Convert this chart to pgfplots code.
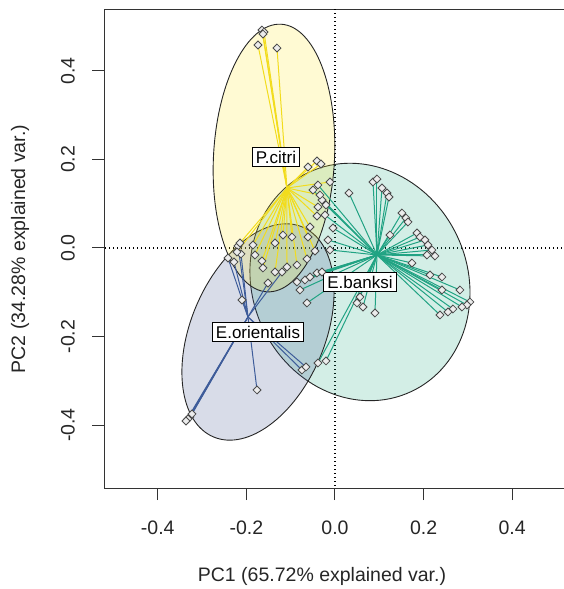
\documentclass[border=0pt]{standalone}
\usepackage{pgfplots}
\pgfplotsset{compat=1.18}
\usepackage{pgfplotstable}
\usepackage{fontspec}
\setmainfont{Liberation Sans}

\definecolor{cyel}{HTML}{F2DC1C}
\definecolor{cteal}{HTML}{21A383}
\definecolor{cblue}{HTML}{3E5C9A}
\definecolor{fyel}{HTML}{FDE725}
\definecolor{fteal}{HTML}{22A884}
\definecolor{fblue}{HTML}{3B528B}

% P.citri scores (PC1, PC2)
\pgfplotstableread{
x y
-0.1648 0.4920
-0.1602 0.4875
-0.1625 0.4830
-0.1738 0.4582
-0.1309 0.4514
-0.0406 0.1964
-0.0609 0.1828
-0.0316 0.1896
-0.0113 0.1490
-0.0339 0.1196
-0.0384 0.0925
-0.0406 0.0722
-0.0564 0.0474
-0.0609 0.0248
-0.0971 0.0248
-0.1174 0.0293
-0.1354 0.0113
-0.1851 0.0068
-0.2144 0.0113
-0.2212 -0.0090
-0.1806 -0.0158
-0.1648 -0.0293
-0.1625 -0.0451
-0.1354 -0.0542
-0.1083 -0.0429
-0.0858 -0.0384
-0.0632 -0.0248
-0.0451 -0.0068
}\pcitri

% E.orientalis scores
\pgfplotstableread{
x y
-0.2415 -0.0226
-0.2189 0.0045
-0.2122 -0.0135
-0.2280 -0.0316
-0.2099 -0.1174
-0.1760 -0.3205
-0.3273 -0.3814
-0.3318 -0.3859
-0.3228 -0.3747
-0.3363 -0.3905
-0.0745 -0.2754
-0.0655 -0.2686
-0.1512 -0.0790
-0.1196 -0.0542
}\eorient

% E.banksi scores
\pgfplotstableread{
x y
0.0858 0.1490
0.0948 0.1557
0.1061 0.1354
0.1174 0.1241
0.1219 0.1151
0.0316 0.1241
0.1512 0.0790
0.1602 0.0677
0.1648 0.0587
0.1241 0.0293
0.1851 0.0339
0.1918 0.0248
0.2031 0.0181
0.2099 0.0068
0.2189 -0.0045
0.2257 -0.0181
0.2076 -0.0158
0.1738 -0.0339
0.2144 -0.0609
0.2415 -0.0655
0.2415 -0.0948
0.2821 -0.0948
0.3047 -0.1219
0.2979 -0.1286
0.2866 -0.1332
0.2663 -0.1377
0.2550 -0.1444
0.2370 -0.1512
0.0903 -0.1467
0.0564 -0.1106
0.0497 -0.1241
0.0632 -0.1332
-0.0632 -0.1241
-0.0858 -0.0767
-0.0677 -0.0722
-0.0564 -0.0655
-0.0406 -0.0564
-0.0293 -0.0542
-0.0045 0.0451
-0.0293 0.1083
-0.0384 -0.2596
-0.0203 -0.2550
-0.0226 0.0745
-0.0158 0.0181
-0.0384 0.1422
-0.0497 0.1309
-0.0203 0.0971
-0.0113 -0.0045
-0.0790 -0.0948
}\ebanksi

\begin{document}
\begin{tikzpicture}
\useasboundingbox (0pt,0pt) rectangle (564pt,-589pt);
\begin{axis}[
  at={(104pt,-488pt)}, anchor=south west,
  x=443pt, y=443pt,
  xmin=-0.5214, xmax=0.62, ymin=-0.5418, ymax=0.5373,
  axis line style={black!80, line width=1pt},
  tick style={black!80, line width=1pt},
  major tick length=12pt,
  tick align=outside,
  xtick pos=bottom, ytick pos=left,
  xtick={-0.4,-0.2,0,0.2,0.4},
  ytick={-0.4,-0.2,0,0.2,0.4},
  /pgf/number format/.cd, fixed, fixed zerofill, precision=1, assume math mode=true, /pgfplots/.cd,
  ticklabel style={font=\fontsize{19.5}{23}\selectfont, text=black!85},
  xticklabel style={anchor=center},
  xticklabel shift=28pt,
  yticklabel style={rotate=90, anchor=center},
  yticklabel shift=24pt,
  clip=true,
]
% zero reference lines
\addplot[black, line width=1.1pt, dash pattern=on 1.2pt off 2.8pt] coordinates {(0,-0.6) (0,0.6)};
\addplot[black, line width=1.1pt, dash pattern=on 1.2pt off 2.8pt] coordinates {(-0.6,0) (0.7,0)};

% ellipses
\draw[black!85, line width=0.9pt, fill=fteal, fill opacity=0.2, rotate around={-65:(axis cs:0.0564,-0.0767)}] (axis cs:0.0564,-0.0767) ellipse [x radius=121pt, y radius=107.5pt];
\draw[black!85, line width=0.9pt, fill=fblue, fill opacity=0.2, rotate around={67:(axis cs:-0.1738,-0.1896)}] (axis cs:-0.1738,-0.1896) ellipse [x radius=114pt, y radius=67pt];
\draw[black!85, line width=0.9pt, fill=fyel, fill opacity=0.2, rotate around={87:(axis cs:-0.1377,0.2031)}] (axis cs:-0.1377,0.2031) ellipse [x radius=134pt, y radius=60.5pt];

% spiders
\addplot[cteal, line width=1pt, -, quiver={u={0.0948-\thisrow{x}}, v={-0.0158-\thisrow{y}}}] table {\ebanksi};
\addplot[cblue, line width=1pt, -, quiver={u={-0.1964-\thisrow{x}}, v={-0.1557-\thisrow{y}}}] table {\eorient};
\addplot[cyel, line width=1pt, -, quiver={u={-0.1084-\thisrow{x}}, v={0.1354-\thisrow{y}}}] table {\pcitri};

% points
\addplot[only marks, mark=square*, mark size=2.8pt, mark options={rotate=45, draw=black!70, fill=gray!15, line width=0.8pt}] table {\ebanksi};
\addplot[only marks, mark=square*, mark size=2.8pt, mark options={rotate=45, draw=black!70, fill=gray!15, line width=0.8pt}] table {\eorient};
\addplot[only marks, mark=square*, mark size=2.8pt, mark options={rotate=45, draw=black!70, fill=gray!15, line width=0.8pt}] table {\pcitri};

% group labels
\node[draw=black, line width=0.9pt, fill=white, inner xsep=3.5pt, inner ysep=3pt, font=\fontsize{17}{17}\selectfont] at (axis cs:-0.1332,0.2054) {P.citri};
\node[draw=black, line width=0.9pt, fill=white, inner xsep=3.5pt, inner ysep=3pt, font=\fontsize{17}{17}\selectfont] at (axis cs:0.0564,-0.0767) {E.banksi};
\node[draw=black, line width=0.9pt, fill=white, inner xsep=3.5pt, inner ysep=3pt, font=\fontsize{17}{17}\selectfont] at (axis cs:-0.1738,-0.1896) {E.orientalis};
\end{axis}
\node[font=\fontsize{19.5}{23}\selectfont, text=black!85] at (322pt,-576pt) {PC1 (65.72\% explained var.)};
\node[font=\fontsize{19.5}{23}\selectfont, text=black!85, rotate=90] at (20pt,-249pt) {PC2 (34.28\% explained var.)};
\end{tikzpicture}
\end{document}
